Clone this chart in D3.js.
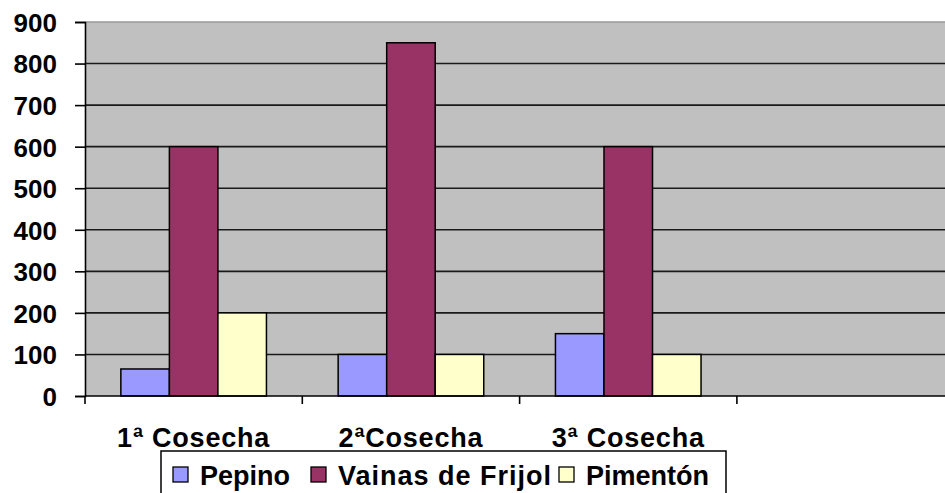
<!DOCTYPE html>
<html>
<head>
<meta charset="utf-8">
<script src="https://cdn.jsdelivr.net/npm/d3@7"></script>
<style>
  html, body { margin: 0; padding: 0; background: #fff; }
  svg { display: block; }
  text { font-family: "Liberation Sans", Arial, sans-serif; font-weight: bold; fill: #000; }
</style>
</head>
<body>
<svg id="chart" width="945" height="493"></svg>
<script>
// Harvest slots along the x axis (the last slot is left empty)
const categories = ["1ª Cosecha", "2ªCosecha", "3ª Cosecha", ""];
// Series, one value per harvest
const seriesNames = ["Pepino", "Vainas de Frijol", "Pimentón"];
const pepino = [65, 100, 150];
const vainas = [600, 850, 600];
const pimenton = [200, 100, 100];
const seriesColors = ["#9999FF", "#993366", "#FFFFCC"];
const yTicks = [0, 100, 200, 300, 400, 500, 600, 700, 800, 900];

const seriesValues = [pepino, vainas, pimenton];

const svg = d3.select("#chart");
const plotLeft = 85, plotTop = 22, plotBottom = 396;
const plotRight = plotLeft + 4 * 217.3;

const x = d3.scaleBand().domain(categories).range([plotLeft, plotRight]).paddingInner(0).paddingOuter(0);
const groupPad = 0.165;
const xInner = d3.scaleBand().domain(seriesNames)
  .range([x.bandwidth() * groupPad, x.bandwidth() * (1 - groupPad)]);
const y = d3.scaleLinear().domain([0, 900]).range([plotBottom, plotTop]);

// Plot background
svg.append("rect")
  .attr("x", plotLeft).attr("y", plotTop)
  .attr("width", plotRight - plotLeft).attr("height", plotBottom - plotTop)
  .attr("fill", "#C0C0C0");
svg.append("line")
  .attr("x1", plotLeft).attr("x2", plotRight)
  .attr("y1", plotTop).attr("y2", plotTop)
  .attr("stroke", "#9a9a9a").attr("stroke-width", 1.5);

// Horizontal gridlines
svg.append("g")
  .selectAll("line")
  .data(yTicks.filter(d => d > 0 && d < 900))
  .join("line")
  .attr("x1", plotLeft).attr("x2", plotRight)
  .attr("y1", d => y(d)).attr("y2", d => y(d))
  .attr("stroke", "#1a1a1a").attr("stroke-width", 1.6);

// Bars
const rows = categories.slice(0, 3).map((c, i) => ({
  cat: c,
  items: seriesNames.map((s, j) => ({ s, v: seriesValues[j][i], color: seriesColors[j] }))
}));
svg.append("g")
  .selectAll("g")
  .data(rows)
  .join("g")
  .attr("transform", d => `translate(${x(d.cat)},0)`)
  .selectAll("rect")
  .data(d => d.items)
  .join("rect")
  .attr("x", d => xInner(d.s))
  .attr("width", xInner.bandwidth())
  .attr("y", d => y(d.v))
  .attr("height", d => y(0) - y(d.v))
  .attr("fill", d => d.color)
  .attr("stroke", "#000").attr("stroke-width", 1.5);

// Y axis
const yAxis = svg.append("g")
  .attr("transform", `translate(${plotLeft},0)`)
  .call(d3.axisLeft(y).tickValues(yTicks).tickSize(10).tickPadding(18).tickFormat(d3.format("d")));
yAxis.select(".domain").attr("stroke", "#000").attr("stroke-width", 1.6);
yAxis.selectAll(".tick line").attr("stroke", "#000").attr("stroke-width", 1.6);
yAxis.selectAll(".tick text")
  .attr("font-size", 26).attr("font-family", null).attr("fill", "#000").attr("dy", "0.36em");
yAxis.attr("font-family", null).attr("font-size", null);

// X axis: tick marks on the slot boundaries
const xAxis = svg.append("g").attr("transform", `translate(0,${plotBottom})`);
xAxis.append("line")
  .attr("x1", plotLeft).attr("x2", plotRight)
  .attr("stroke", "#000").attr("stroke-width", 1.6);
xAxis.selectAll("line.tk")
  .data(categories)
  .join("line").attr("class", "tk")
  .attr("x1", d => x(d)).attr("x2", d => x(d))
  .attr("y1", 0).attr("y2", 8)
  .attr("stroke", "#000").attr("stroke-width", 1.6);
xAxis.selectAll("text")
  .data(categories)
  .join("text")
  .attr("x", d => x(d) + x.bandwidth() / 2)
  .attr("y", 51)
  .attr("text-anchor", "middle")
  .attr("font-size", 27)
  .attr("letter-spacing", "0.8px")
  .text(d => d);

// Legend
const legend = svg.append("g");
legend.append("rect")
  .attr("x", 161).attr("y", 451).attr("width", 565).attr("height", 60)
  .attr("fill", "#fff").attr("stroke", "#000").attr("stroke-width", 1.5);
const legendX = [173, 311, 559];
const items = legend.selectAll("g.item")
  .data(seriesNames)
  .join("g").attr("class", "item")
  .attr("transform", (d, i) => `translate(${legendX[i]},467)`);
items.append("rect")
  .attr("width", 15).attr("height", 15)
  .attr("fill", (d, i) => seriesColors[i])
  .attr("stroke", "#000").attr("stroke-width", 1.3);
items.append("text")
  .attr("x", 27).attr("y", 18)
  .attr("font-size", 27)
  .attr("letter-spacing", (d, i) => i === 1 ? "1px" : "0px")
  .text(d => d);
</script>
</body>
</html>
